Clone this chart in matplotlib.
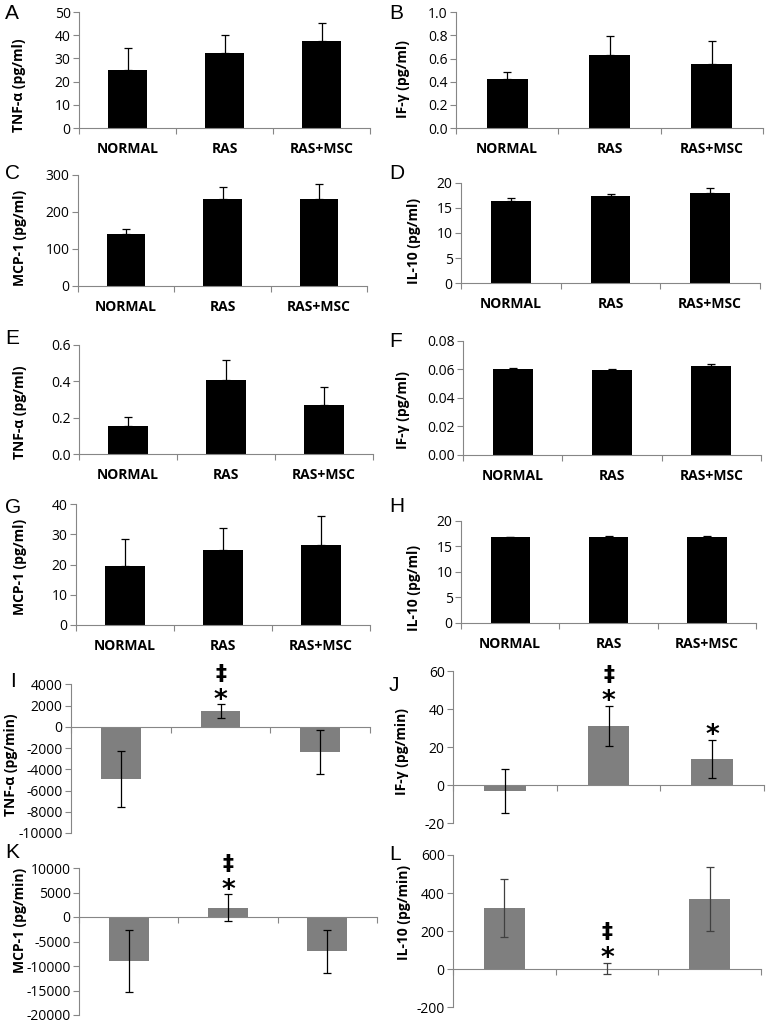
import numpy as np
import matplotlib
matplotlib.use("Agg")
import matplotlib.pyplot as plt
from matplotlib.ticker import FormatStrFormatter

plt.rcParams['font.family'] = ['Open Sans', 'DejaVu Sans']
plt.rcParams['axes.unicode_minus'] = False

groups = ["NORMAL", "RAS", "RAS+MSC"]

# plasma levels (pg/ml), mean and upper SEM
tnf_a = [25.0, 32.3, 37.6]
tnf_a_err = [9.5, 7.9, 7.8]
ifg_b = [0.42, 0.635, 0.555]
ifg_b_err = [0.065, 0.16, 0.195]
mcp_c = [139, 235, 235]
mcp_c_err = [14, 32, 40]
il10_d = [16.4, 17.45, 17.95]
il10_d_err = [0.5, 0.4, 1.0]
tnf_e = [0.156, 0.405, 0.27]
tnf_e_err = [0.048, 0.115, 0.10]
ifg_f = [0.0604, 0.0598, 0.0620]
ifg_f_err = [0.0005, 0.0005, 0.0017]
mcp_g = [19.5, 24.7, 26.3]
mcp_g_err = [8.8, 7.3, 9.8]
il10_h = [16.8, 16.9, 16.95]
il10_h_err = [0.15, 0.15, 0.15]

# renal release (pg/min), mean +/- SEM
tnf_i = [-4950, 1480, -2390]
tnf_i_err = [2630, 620, 2050]
ifg_j = [-3.0, 31.4, 14.0]
ifg_j_err = [11.8, 10.5, 9.9]
mcp_k = [-9000, 1930, -7000]
mcp_k_err = [6400, 2700, 4400]
il10_l = [323, 3, 367]
il10_l_err = [152, 30, 168]

# significance marks per group
star_i = [False, True, False]
dagger_i = [False, True, False]
star_j = [False, True, True]
dagger_j = [False, True, False]
star_k = [False, True, False]
dagger_k = [False, True, False]
star_l = [False, True, False]
dagger_l = [False, True, False]

W, H = 768, 1024
fig = plt.figure(figsize=(W / 100, H / 100), dpi=100)


def rect(l, r, t, b):
    return [l / W, 1 - b / H, (r - l) / W, (b - t) / H]


def panel(box, vals, errs, ylim, step, fmt, ylabel, lab_xy, letter, let_xy,
          lower=False, stars=None, daggers=None, ecolor='black'):
    ax = fig.add_axes(rect(*box))
    x = np.arange(len(groups))
    color = '#7f7f7f' if lower else 'black'
    ax.bar(x, vals, width=0.4, color=color, zorder=2)
    yerr = errs if lower else [np.zeros(len(errs)), errs]
    ax.errorbar(x, vals, yerr=yerr, fmt='none', ecolor=ecolor,
                elinewidth=0.9, capsize=3, capthick=0.9, zorder=3)
    ax.set_xlim(-0.5, 2.5)
    ax.set_ylim(*ylim)
    ax.set_yticks(np.arange(ylim[0], ylim[1] + step / 2, step))
    ax.yaxis.set_major_formatter(FormatStrFormatter(fmt))
    for s in ['top', 'right']:
        ax.spines[s].set_visible(False)
    for s in ['left', 'bottom']:
        ax.spines[s].set_color('#868686')
        ax.spines[s].set_linewidth(0.8)
    if ylim[0] < 0:
        ax.spines['bottom'].set_position(('data', 0))
    ax.set_xticks(x)
    ax.set_xticklabels([] if lower else groups, fontsize=10, fontweight='bold')
    ax.set_xticks([-0.5, 0.5, 1.5, 2.5], minor=True)
    ax.tick_params(axis='x', which='major', length=0, pad=10)
    ax.tick_params(axis='x', which='minor', length=4, color='#868686', width=0.8)
    ax.tick_params(axis='y', length=4, color='#868686', width=0.8,
                   labelsize=10, pad=2)
    fig.text(lab_xy[0] / W, 1 - lab_xy[1] / H, ylabel, rotation=90,
             ha='center', va='center', fontsize=10, fontweight='bold')
    fig.text(let_xy[0] / W, 1 - let_xy[1] / H, letter, ha='left', va='top',
             fontsize=15, family='Liberation Sans')
    if stars is not None:
        for i in range(len(groups)):
            top = vals[i] + errs[i]
            if stars[i]:
                ax.annotate('*', xy=(i, top), xytext=(0, 2.5),
                            textcoords='offset points', ha='center',
                            va='center', fontsize=19, fontweight='bold',
                            family='DejaVu Sans')
            if daggers[i]:
                ax.annotate('‡', xy=(i, top), xytext=(0, 22),
                            textcoords='offset points', ha='center',
                            va='center', fontsize=16, fontweight='bold',
                            family='DejaVu Sans')
    return ax


panel((79, 370, 12, 128), tnf_a, tnf_a_err, (0, 50), 10, '%d',
      'TNF-α (pg/ml)', (19, 85), 'A', (5, 4))
panel((456, 763, 12.3, 128), ifg_b, ifg_b_err, (0, 1.0), 0.2, '%.1f',
      'IF-γ (pg/ml)', (403, 79), 'B', (389, 4))
panel((78, 367, 175, 285.7), mcp_c, mcp_c_err, (0, 300), 100, '%d',
      'MCP-1 (pg/ml)', (20, 238), 'C', (5, 164))
panel((461, 760, 182.7, 283.3), il10_d, il10_d_err, (0, 20), 5, '%d',
      'IL-10 (pg/ml)', (414, 241), 'D', (389, 164))
panel((79, 373, 345, 454), tnf_e, tnf_e_err, (0, 0.6), 0.2, '%.1f',
      'TNF-α (pg/ml)', (20, 412), 'E', (5, 329))
panel((463, 761, 340.7, 455), ifg_f, ifg_f_err, (0, 0.08), 0.02, '%.2f',
      'IF-γ (pg/ml)', (403, 410), 'F', (389, 332))
panel((76, 370, 504, 625), mcp_g, mcp_g_err, (0, 40), 10, '%d',
      'MCP-1 (pg/ml)', (20, 567), 'G', (5, 498))
panel((461, 756, 521, 622.7), il10_h, il10_h_err, (0, 20), 5, '%d',
      'IL-10 (pg/ml)', (414, 588), 'H', (389, 497))
panel((71, 370, 684.3, 833), tnf_i, tnf_i_err, (-10000, 4000), 2000, '%d',
      'TNF-α (pg/min)', (11, 765), 'I', (10, 672), lower=True,
      stars=star_i, daggers=dagger_i)
panel((453, 764, 671.3, 823.3), ifg_j, ifg_j_err, (-20, 60), 20, '%d',
      'IF-γ (pg/min)', (402, 752), 'J', (389, 676), lower=True,
      stars=star_j, daggers=dagger_j)
panel((79, 377, 868, 1015), mcp_k, mcp_k_err, (-20000, 10000), 5000, '%d',
      'MCP-1 (pg/min)', (20, 920), 'K', (5, 843), lower=True,
      stars=star_k, daggers=dagger_k)
panel((453, 761, 855, 1007.3), il10_l, il10_l_err, (-200, 600), 200, '%d',
      'IL-10 (pg/min)', (404, 912), 'L', (389, 845), lower=True,
      stars=star_l, daggers=dagger_l, ecolor='#404040')

fig.savefig('out.png', dpi=100)
